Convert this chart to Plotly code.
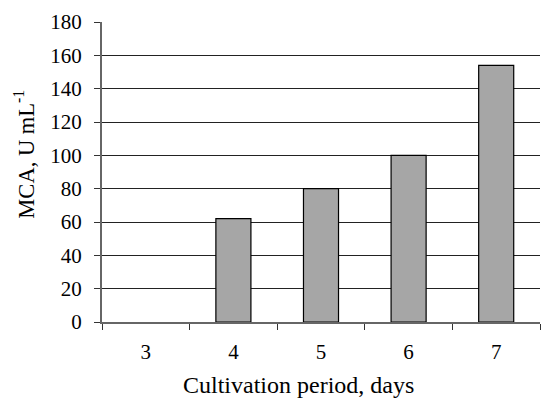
import plotly.graph_objects as go

days = ["3", "4", "5", "6", "7"]
mca = [0, 62, 80, 100, 154]
y_ticks = list(range(0, 181, 20))
x_title = "Cultivation period, days"
y_title = "MCA, U mL<sup>-1</sup>"

fig = go.Figure()
fig.add_trace(go.Bar(
    x=days, y=mca, width=0.4,
    marker=dict(color="#a6a6a6",
                line=dict(color="#000000", width=[0 if v == 0 else 1.2 for v in mca])),
))

tick_font = dict(family="Liberation Serif, Times New Roman, serif", size=21, color="#000")
title_font = dict(family="Liberation Serif, Times New Roman, serif", size=24, color="#000")
ytitle_font = dict(family="Liberation Serif, Times New Roman, serif", size=22.5, color="#000")
fig.update_layout(
    width=541, height=400,
    margin=dict(l=102, r=1, t=22, b=78),
    paper_bgcolor="white", plot_bgcolor="white",
    showlegend=False, font=tick_font,
    annotations=[
        dict(text=x_title, xref="paper", yref="paper", x=0.4475, y=-0.21,
             xanchor="center", yanchor="middle", showarrow=False, font=title_font),
        dict(text=y_title, xref="paper", yref="paper", x=-0.178, y=0.558,
             xanchor="center", yanchor="middle", textangle=-90, showarrow=False,
             font=ytitle_font),
    ],
)
fig.update_xaxes(
    type="category", range=[-0.5, 4.5], tickson="boundaries",
    ticks="outside", ticklen=6, tickcolor="#333", tickwidth=1,
    ticklabelstandoff=10,
    showline=True, linecolor="#666", linewidth=2, showgrid=False,
    tickfont=tick_font,
)
fig.update_yaxes(
    range=[0, 180], tickvals=y_ticks,
    ticks="outside", ticklen=6, tickcolor="#333", tickwidth=1,
    ticklabelstandoff=8,
    showline=True, linecolor="#666", linewidth=2,
    showgrid=True, gridcolor="#222", gridwidth=1, zeroline=False,
    tickfont=tick_font,
)
fig.write_html(
    "out.html",
    config={"displayModeBar": False},
    post_script="document.body.style.margin='0';document.body.style.overflow='hidden';",
)
